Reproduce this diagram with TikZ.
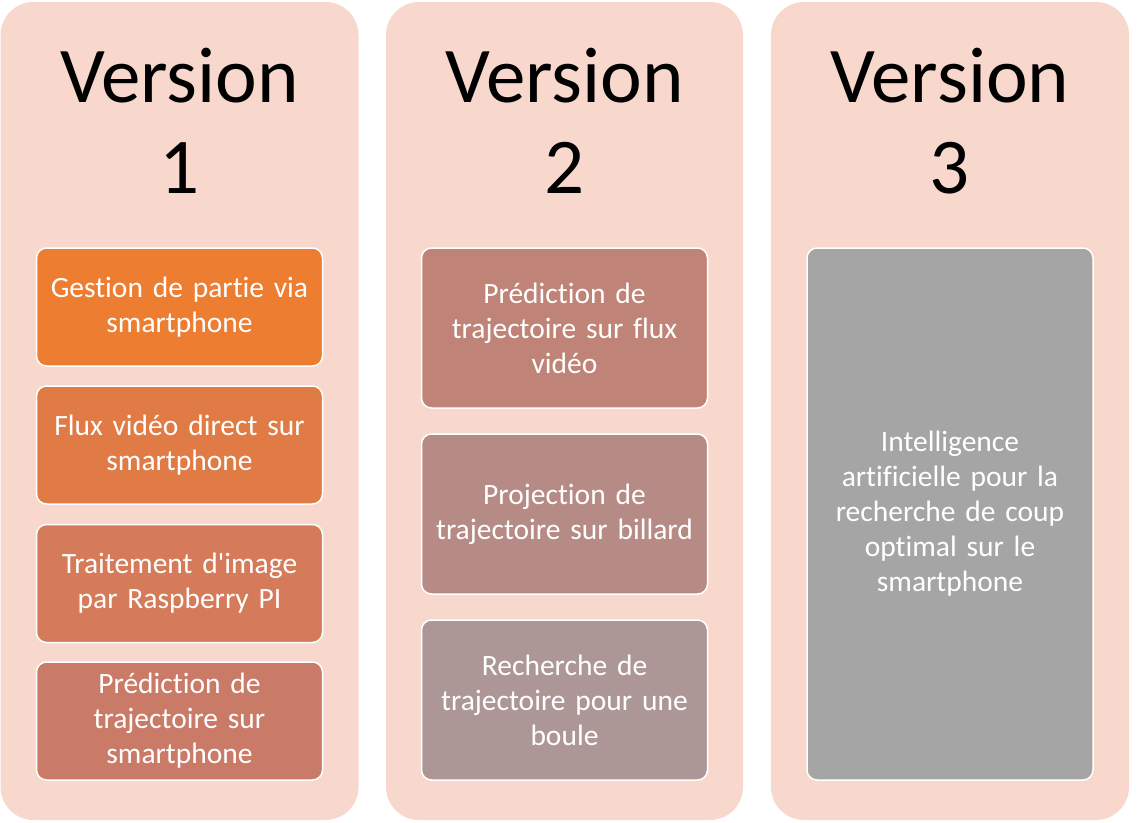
\documentclass[tikz,border=0pt]{standalone}
\usepackage{xcolor}
\usepackage{fontspec}
\setmainfont{Carlito}[Ligatures={TeX,NoCommon,NoContextual}]
\usepackage{tikz}
\definecolor{colbg}{HTML}{F8D8CD}
\definecolor{ca}{HTML}{ED7D31}
\definecolor{cb}{HTML}{E07B45}
\definecolor{cc}{HTML}{D57B59}
\definecolor{cd}{HTML}{C97B68}
\definecolor{ce}{HTML}{BF8377}
\definecolor{cf}{HTML}{B68B86}
\definecolor{cg}{HTML}{AD9796}
\definecolor{ch}{HTML}{A5A5A5}

\begin{document}
\begin{tikzpicture}[x=1pt,y=-1pt,
    column/.style={rectangle,rounded corners=33pt,fill=colbg,inner sep=0pt,minimum width=358pt,minimum height=818pt},
    title/.style={align=center,inner sep=0pt,anchor=base,font=\fontsize{79}{91}\selectfont},
    item/.style={rectangle,rounded corners=10pt,draw=white,line width=1.5pt,text=white,align=center,text width=270pt,inner xsep=8pt,minimum width=286pt,font=\fontsize{29.5}{35}\selectfont}]
  \useasboundingbox (0,0) rectangle (1140,822);
  \node[column] (c1) at (179.5,411) {};
  \node[column,minimum width=357pt] (c2) at (564.5,411) {};
  \node[column] (c3) at (950,411) {};
  \node[title] (v1) at (179.5,193) {Version\\1};
  \node[title] (v2) at (564.5,193) {Version\\2};
  \node[title] (v3) at (950,193) {Version\\3};
  \node[item,fill=ca,minimum height=118pt] (a1) at (179.5,307) {Gestion de partie via\\smartphone};
  \node[item,fill=cb,minimum height=118pt] (a2) at (179.5,445) {Flux vidéo direct sur\\smartphone};
  \node[item,fill=cc,minimum height=118pt] (a3) at (179.5,583.5) {Traitement d\textquotesingle image\\par Raspberry PI};
  \node[item,fill=cd,minimum height=118pt] (a4) at (179.5,721) {Prédiction de\\trajectoire sur\\smartphone};
  \node[item,fill=ce,minimum height=160pt] (b1) at (564.5,328) {Prédiction de\\trajectoire sur flux\\vidéo};
  \node[item,fill=cf,minimum height=160pt] (b2) at (564.5,514) {Projection de\\trajectoire sur billard};
  \node[item,fill=cg,minimum height=160pt] (b3) at (564.5,700) {Recherche de\\trajectoire pour une\\boule};
  \node[item,fill=ch,minimum height=532pt] (d1) at (950,514) {Intelligence\\artificielle pour la\\recherche de coup\\optimal sur le\\smartphone};
\end{tikzpicture}
\end{document}
